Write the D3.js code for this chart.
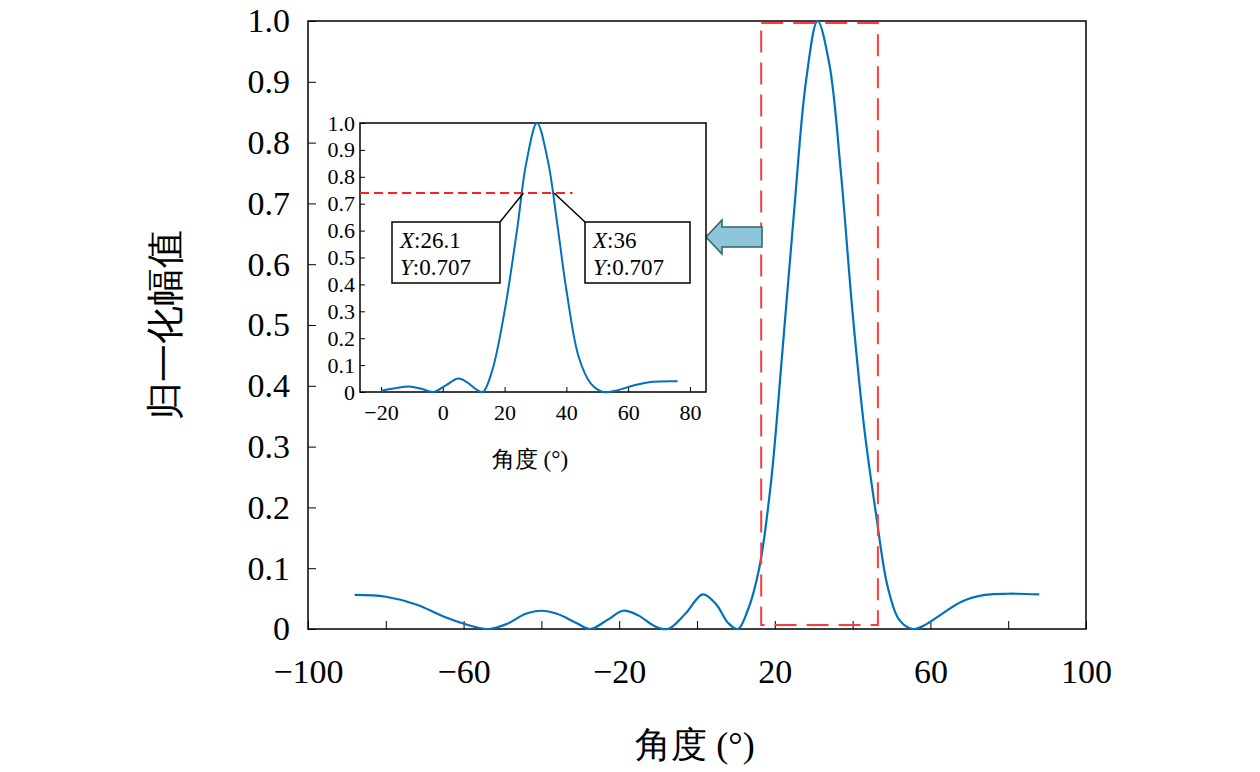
<!DOCTYPE html>
<html><head><meta charset="utf-8">
<script src="https://cdn.jsdelivr.net/npm/d3@7"></script>
<style>body{margin:0;background:#fff}</style></head>
<body><svg id="c" width="1260" height="772"></svg>
<script>
// main pattern
const mainX = [-88,-80,-72,-65,-58,-53.5,-49,-44,-40,-36,-31,-27.5,-23,-19,-15,-11,-7.5,-3,1.5,5,8,10.5,13,16,19,22,25,28,31,34,37,40,43,46,49,52,55.5,59,63,68,74,80,88];
const mainY = [0.056,0.053,0.04,0.02,0.005,0,0.008,0.025,0.03,0.025,0.01,0,0.015,0.03,0.022,0.005,0,0.025,0.057,0.04,0.01,0,0.03,0.1,0.24,0.46,0.69,0.9,1,0.93,0.75,0.52,0.33,0.19,0.07,0.015,0,0.008,0.025,0.045,0.056,0.058,0.057];
// inset pattern
const insetX = [-20,-15,-11,-7,-3,1,5,8,11,13,16,20,24,27,30.5,34,37,40,44,48,52,56,62,68,76];
const insetY = [0.005,0.015,0.02,0.012,0,0.025,0.05,0.035,0.008,0,0.08,0.3,0.6,0.85,1,0.86,0.63,0.38,0.13,0.03,0,0.005,0.025,0.038,0.04];
const mainXTicks = [-100,-60,-20,20,60,100];
const yTicks = [0,0.1,0.2,0.3,0.4,0.5,0.6,0.7,0.8,0.9,1.0];
const insetXTicks = [-20,0,20,40,60,80];
const tips = [{x:26.1, y:0.707, label:"26.1"},{x:36, y:0.707, label:"36"}];
const halfLine = 0.74;

const svg = d3.select("#c");
const font = "'Liberation Serif','DejaVu Serif',serif";
const fmtY = d => d===0 ? "0" : d.toFixed(1);
const fmtX = d => d<0 ? "\u2212"+(-d) : String(d);

// main axes
const x = d3.scaleLinear().domain([-100,100]).range([308,1086]);
const y = d3.scaleLinear().domain([0,1]).range([629,21]);
svg.append("rect").attr("x",308).attr("y",21).attr("width",778).attr("height",608).attr("fill","none").attr("stroke","#000").attr("stroke-width",1.5);
svg.append("g").attr("transform","translate(0,629)")
  .call(d3.axisBottom(x).tickValues(d3.range(-100,101,20)).tickSizeInner(-8).tickSizeOuter(0).tickPadding(30)
    .tickFormat(d => mainXTicks.includes(d) ? fmtX(d) : ""))
  .call(g=>{g.select(".domain").remove();g.selectAll("text").attr("font-family",font).attr("font-size",34).attr("fill","#000");});
svg.append("g").attr("transform","translate(308,0)")
  .call(d3.axisLeft(y).tickValues(yTicks).tickSizeInner(-8).tickSizeOuter(0).tickPadding(18).tickFormat(fmtY))
  .call(g=>{g.select(".domain").remove();g.selectAll("text").attr("font-family",font).attr("font-size",34).attr("fill","#000");});
svg.append("path").datum(d3.zip(mainX,mainY)).attr("fill","none").attr("stroke","#0072BD").attr("stroke-width",2.2)
  .attr("d",d3.line().x(d=>x(d[0])).y(d=>y(d[1])).curve(d3.curveCatmullRom));
svg.append("text").attr("x",695).attr("y",757).attr("text-anchor","middle").attr("font-family",font).attr("font-size",36).text("角度 (°)");
svg.append("text").attr("transform","translate(178,325) rotate(-90)").attr("text-anchor","middle").attr("font-family",font).attr("font-size",38).text("归一化幅值");

// red dashed box
svg.append("rect").attr("x",x(16.5)).attr("y",23).attr("width",x(46.5)-x(16.5)).attr("height",602)
  .attr("fill","none").attr("stroke","#FF3B3B").attr("stroke-width",2).attr("stroke-dasharray","22,10");
// arrow
svg.append("path").attr("d","M706,237 L722,220 L722,227 L762,227 L762,247 L722,247 L722,254 Z")
  .attr("fill","#8CC6D8").attr("stroke","#2F6470").attr("stroke-width",1.5);

// inset
const ix = d3.scaleLinear().domain([-26.8,85.2]).range([360,706]);
const iy = d3.scaleLinear().domain([0,1]).range([392,123]);
svg.append("rect").attr("x",360).attr("y",123).attr("width",346).attr("height",269).attr("fill","#fff").attr("stroke","#000").attr("stroke-width",1.5);
svg.append("g").attr("transform","translate(0,392)")
  .call(d3.axisBottom(ix).tickValues(insetXTicks).tickSizeInner(-5).tickSizeOuter(0).tickPadding(12).tickFormat(fmtX))
  .call(g=>{g.select(".domain").remove();g.selectAll("text").attr("font-family",font).attr("font-size",22).attr("fill","#000");});
svg.append("g").attr("transform","translate(360,0)")
  .call(d3.axisLeft(iy).tickValues(yTicks).tickSizeInner(-5).tickSizeOuter(0).tickPadding(5).tickFormat(fmtY))
  .call(g=>{g.select(".domain").remove();g.selectAll("text").attr("font-family",font).attr("font-size",22).attr("fill","#000");});
svg.append("path").datum(d3.zip(insetX,insetY)).attr("fill","none").attr("stroke","#0072BD").attr("stroke-width",2)
  .attr("d",d3.line().x(d=>ix(d[0])).y(d=>iy(d[1])).curve(d3.curveCatmullRom));
svg.append("line").attr("x1",360).attr("x2",ix(42)).attr("y1",iy(halfLine)).attr("y2",iy(halfLine))
  .attr("stroke","#FF2020").attr("stroke-width",2).attr("stroke-dasharray","9,5");
svg.append("text").attr("x",530).attr("y",467).attr("text-anchor","middle").attr("font-family",font).attr("font-size",23).text("角度 (°)");

// data tips
const boxes = [{x0:392,x1:500,ax:500},{x0:585,x1:690,ax:585}];
tips.forEach((t,i)=>{
  const b = boxes[i];
  svg.append("line").attr("x1",b.ax).attr("y1",222).attr("x2",ix(t.x)).attr("y2",iy(halfLine)).attr("stroke","#000").attr("stroke-width",1.5);
  svg.append("rect").attr("x",b.x0).attr("y",222).attr("width",b.x1-b.x0).attr("height",61).attr("fill","#fff").attr("stroke","#000").attr("stroke-width",1.5);
  const tx = svg.append("text").attr("x",b.x0+8).attr("y",248).attr("font-family",font).attr("font-size",23);
  tx.append("tspan").attr("font-style","italic").text("X");
  tx.append("tspan").text(":"+t.label);
  const ty = svg.append("text").attr("x",b.x0+8).attr("y",275).attr("font-family",font).attr("font-size",23);
  ty.append("tspan").attr("font-style","italic").text("Y");
  ty.append("tspan").text(":"+t.y);
});
</script></body></html>
